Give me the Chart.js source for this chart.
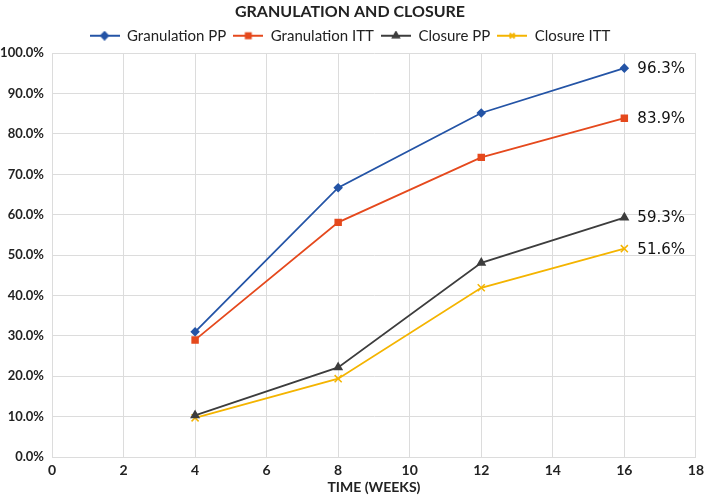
<!DOCTYPE html>
<html>
<head>
<meta charset="utf-8">
<script src="https://cdn.jsdelivr.net/npm/chart.js@4"></script>
<style>
  html, body { margin: 0; padding: 0; background: #fff; }
  #wrap { width: 709px; height: 496px; }
</style>
</head>
<body>
<div id="wrap"><canvas id="chart" width="709" height="496"></canvas></div>
<script>
const weeks = [4, 8, 12, 16];
const granulationPP = [31.0, 66.7, 85.2, 96.3];
const granulationITT = [29.0, 58.1, 74.2, 83.9];
const closurePP = [10.3, 22.2, 48.1, 59.3];
const closureITT = [9.7, 19.4, 41.9, 51.6];

function toPoints(values) {
    return weeks.map((w, i) => ({ x: w, y: values[i] }));
}

// small line + marker icon for the legend
function legendIcon(color, style) {
    const c = document.createElement('canvas');
    c.width = 30; c.height = 10;
    const g = c.getContext('2d');
    g.strokeStyle = color; g.fillStyle = color; g.lineWidth = 2;
    g.beginPath(); g.moveTo(0, 5); g.lineTo(30, 5); g.stroke();
    Chart.helpers.drawPoint(g, { pointStyle: style, radius: 3.5, borderWidth: 1.5 }, 15, 5);
    if (style !== 'crossRot') g.fill();
    return c;
}

// label only the last point of each line
const lastLabel = {
    id: 'lastLabel',
    afterDatasetsDraw(chart) {
        const ctx = chart.ctx;
        ctx.save();
        ctx.font = '15px "DejaVu Sans"';
        ctx.fillStyle = '#111';
        ctx.textBaseline = 'middle';
        chart.data.datasets.forEach((ds, i) => {
            const meta = chart.getDatasetMeta(i);
            const pt = meta.data[meta.data.length - 1];
            const v = ds.data[ds.data.length - 1].y;
            ctx.fillText(v.toFixed(1) + '%', pt.x + 13, pt.y + 1);
        });
        ctx.restore();
    }
};

const colors = ['#2454a6', '#e5491d', '#3d3d3d', '#f4b400'];
const styles = ['rectRot', 'rect', 'triangle', 'crossRot'];

const ctx = document.getElementById('chart').getContext('2d');
new Chart(ctx, {
    type: 'line',
    data: {
        datasets: [{
            label: 'Granulation PP',
            data: toPoints(granulationPP),
            pointRadius: 3.5
        }, {
            label: 'Granulation ITT',
            data: toPoints(granulationITT),
            pointRadius: 4
        }, {
            label: 'Closure PP',
            data: toPoints(closurePP),
            pointRadius: 4
        }, {
            label: 'Closure ITT',
            data: toPoints(closureITT),
            pointRadius: 5,
            pointBorderWidth: 1.5
        }].map((ds, i) => Object.assign(ds, {
            borderColor: colors[i],
            backgroundColor: colors[i],
            pointStyle: styles[i],
            borderWidth: 1.8
        }))
    },
    options: {
        responsive: false,
        animation: false,
        elements: { line: { tension: 0 } },
        layout: { padding: { left: 0, right: 9, top: 0, bottom: 0 } },
        plugins: {
            title: {
                display: true,
                text: 'GRANULATION AND CLOSURE',
                color: '#222',
                font: { family: 'Lato', size: 16, weight: 'bold' },
                padding: { top: 2, bottom: 0 }
            },
            legend: {
                position: 'top',
                labels: {
                    usePointStyle: true,
                    pointStyleWidth: 30,
                    boxHeight: 10,
                    color: '#222',
                    font: { family: 'Lato', size: 15 },
                    padding: 7,
                    generateLabels(chart) {
                        return chart.data.datasets.map((ds, i) => ({
                            text: ds.label,
                            pointStyle: legendIcon(colors[i], styles[i]),
                            fontColor: '#222',
                            datasetIndex: i,
                            hidden: false,
                            lineWidth: 0
                        }));
                    }
                }
            },
            tooltip: { enabled: false }
        },
        scales: {
            x: {
                type: 'linear',
                min: 0,
                max: 18,
                afterFit(scale) { scale.height = 39; },
                ticks: {
                    stepSize: 2,
                    color: '#222',
                    padding: 5,
                    font: { family: 'Lato', size: 14, weight: 'bold' }
                },
                grid: { color: '#dcdcdc', drawTicks: false },
                border: { color: '#dcdcdc' },
                title: {
                    display: true,
                    text: 'TIME (WEEKS)',
                    color: '#222',
                    font: { family: 'Lato', size: 14, weight: 'bold' },
                    padding: { top: 0, bottom: 0 }
                }
            },
            y: {
                min: 0,
                max: 100,
                afterFit(scale) { scale.width = 52; },
                ticks: {
                    stepSize: 10,
                    color: '#222',
                    padding: 8,
                    font: { family: 'Lato', size: 13, weight: 'bold' },
                    callback: v => v.toFixed(1) + '%'
                },
                grid: { color: '#dcdcdc', drawTicks: false },
                border: { color: '#dcdcdc' }
            }
        }
    },
    plugins: [lastLabel]
});
</script>
</body>
</html>
